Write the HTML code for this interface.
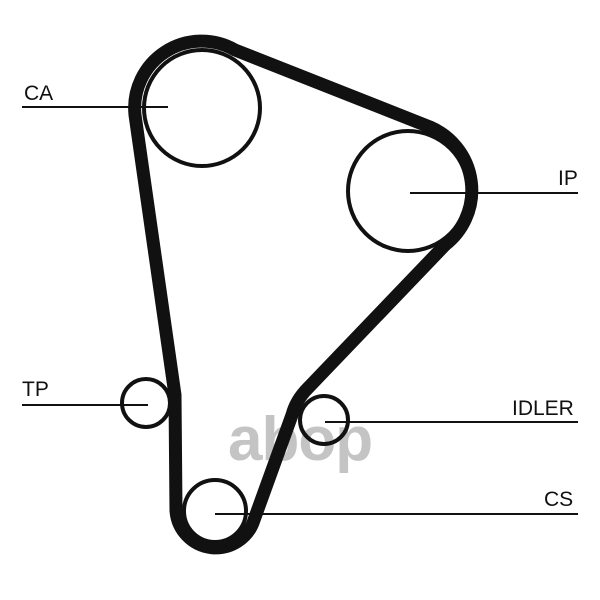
<!DOCTYPE html>
<html><head><style>
html,body{margin:0;padding:0;background:#fff;}
svg{display:block;}
text{font-family:"Liberation Sans",sans-serif;}
</style></head><body>
<svg width="600" height="600" viewBox="0 0 600 600" xmlns="http://www.w3.org/2000/svg">
<text x="228" y="460" font-size="62" font-weight="bold" fill="#c4c4c4" letter-spacing="-1">abop</text>
<g fill="none" stroke="#111" stroke-width="4">
<circle cx="202" cy="108" r="58"/>
<circle cx="408" cy="191" r="60"/>
<circle cx="146" cy="403" r="24"/>
<circle cx="324" cy="420" r="24"/>
<circle cx="215" cy="511" r="31"/>
</g>
<path d="M 135 115 L 175 395 L 176 511 A 40 40 0 0 0 254 520 L 292 415 Q 296 400 308 388 L 445 245 A 69 69 0 0 0 430 127 L 235 50 A 67 67 0 0 0 135 115 Z" fill="none" stroke="#111" stroke-width="13" stroke-linejoin="round"/>
<g stroke="#111" stroke-width="2">
<line x1="22" y1="107" x2="168" y2="107"/>
<line x1="410" y1="193" x2="578" y2="193"/>
<line x1="22" y1="405" x2="148" y2="405"/>
<line x1="325" y1="422" x2="578" y2="422"/>
<line x1="215" y1="514" x2="578" y2="514"/>
</g>
<g font-size="21" fill="#111">
<text x="24" y="100">CA</text>
<text x="558" y="185">IP</text>
<text x="22" y="396">TP</text>
<text x="512" y="415">IDLER</text>
<text x="544" y="506">CS</text>
</g>
</svg>
</body></html>
